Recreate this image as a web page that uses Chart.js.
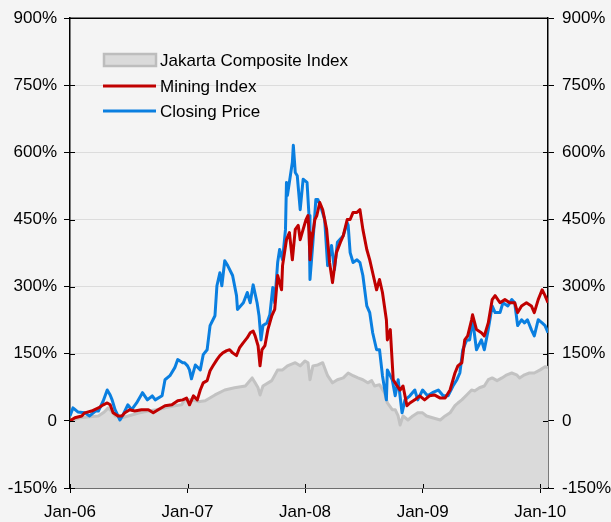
<!DOCTYPE html>
<html>
<head>
<meta charset="utf-8">
<script src="https://cdn.jsdelivr.net/npm/chart.js@4"></script>
<style>
  html, body { margin: 0; padding: 0; background: #f4f4f4; }
  canvas { display: block; }
</style>
</head>
<body>
<canvas id="grafico" width="611" height="522"></canvas>
<script>
// dados (x = meses desde Jan-06, y = variação em %)
var seriesNames = ['Jakarta Composite Index', 'Mining Index', 'Closing Price'];
var tickMonths = [0, 12, 24, 36, 48];
var tickLabels = ['Jan-06', 'Jan-07', 'Jan-08', 'Jan-09', 'Jan-10'];

var jciMonths = [0, 1.0, 2.0, 2.9, 3.5, 3.9, 4.3, 4.6, 5.3, 6.3, 7.1, 8.0, 8.8, 9.7, 10.7, 11.4, 11.7, 12.4, 13.1, 13.8,
  14.8, 15.8, 16.8, 17.9, 18.6, 18.9, 19.2, 19.4, 19.7, 20.6, 21.2, 21.7, 22.2, 23.0, 23.5, 24.0, 24.3, 24.5, 24.8, 25.3,
  25.8, 26.3, 26.8, 27.3, 27.9, 28.4, 28.9, 29.4, 29.9, 30.4, 30.8, 31.1, 31.6, 32.1, 32.4, 32.9, 33.2, 33.5, 33.7, 34.0,
  34.5, 35.0, 35.5, 36.0, 36.4, 37.0, 37.8, 38.3, 38.8, 39.3, 39.6, 40.0, 40.5, 41.0, 41.3, 41.8, 42.3, 42.7, 43.1, 43.6,
  44.1, 44.6, 45.1, 45.6, 45.9, 46.4, 46.9, 47.4, 48.0, 48.5, 48.8];
var jciValues = [0, 7, 9, 11, 20, 29, 20, 11, 7, 13, 18, 22, 25, 29, 34, 36, 47, 47, 43, 45,
  58, 69, 74, 78, 96, 85, 74, 58, 78, 90, 114, 114, 123, 130, 123, 134, 130, 92, 123, 125,
  130, 101, 85, 92, 96, 107, 101, 96, 92, 85, 90, 78, 81, 63, 40, 25, 25, 11, -9, 11,
  2, 11, 18, 18, 11, 7, 2, 11, 18, 34, 40, 47, 58, 69, 67, 74, 78, 92, 96, 90,
  96, 103, 107, 103, 96, 103, 107, 107, 114, 121, 119];

var miningMonths = [0, 0.5, 1.2, 1.5, 2.2, 2.9, 3.4, 3.8, 4.1, 4.4, 4.9, 5.3, 5.6, 6.1, 6.6, 7.3, 8.0, 8.5, 9.0, 9.7,
  10.4, 11.0, 11.5, 11.9, 12.2, 12.6, 13.0, 13.3, 13.6, 14.0, 14.3, 14.6, 15.0, 15.3, 15.6, 16.0, 16.3, 16.6, 17.0, 17.3,
  17.7, 18.1, 18.4, 18.7, 18.9, 19.2, 19.4, 19.6, 19.9, 20.2, 20.6, 20.9, 21.2, 21.6, 21.7, 22.1, 22.4, 22.7, 23.0, 23.3,
  23.5, 23.8, 24.1, 24.3, 24.4, 24.5, 24.7, 25.0, 25.2, 25.5, 25.8, 26.2, 26.5, 26.8, 27.2, 27.6, 27.9, 28.3, 28.6, 28.9,
  29.3, 29.6, 29.9, 30.3, 30.6, 30.9, 31.3, 31.6, 31.9, 32.3, 32.4, 32.7, 33.0, 33.4, 33.7, 34.0, 34.4, 34.7, 35.2, 35.7,
  36.2, 36.7, 37.2, 37.8, 38.3, 38.8, 39.3, 39.6, 40.0, 40.3, 40.6, 41.0, 41.1, 41.5, 42.0, 42.3, 42.7, 43.1, 43.4, 43.9,
  44.4, 44.9, 45.4, 45.7, 46.1, 46.6, 47.1, 47.4, 47.8, 48.2, 48.5, 48.8];
var miningValues = [0, 7, 11, 18, 22, 29, 36, 40, 36, 18, 11, 11, 18, 25, 22, 25, 25, 18, 25, 34,
  36, 45, 47, 51, 36, 56, 47, 69, 85, 90, 112, 123, 137, 146, 152, 157, 159, 152, 146, 163,
  175, 186, 197, 201, 190, 168, 123, 159, 168, 204, 235, 249, 325, 293, 347, 405, 421, 360, 428, 437,
  405, 428, 450, 459, 421, 360, 405, 450, 459, 488, 472, 428, 354, 309, 376, 399, 414, 450, 450, 466,
  466, 472, 428, 383, 360, 331, 293, 316, 287, 226, 181, 204, 92, 78, 69, 78, 34, 40, 47, 56,
  47, 56, 58, 51, 51, 69, 107, 123, 130, 181, 190, 226, 237, 204, 197, 190, 219, 271, 280, 264,
  271, 264, 264, 242, 257, 264, 257, 242, 271, 293, 280, 264];

var closingMonths = [0, 0.3, 0.8, 1.5, 2.0, 2.6, 2.9, 3.4, 3.8, 4.1, 4.3, 4.6, 5.1, 5.4, 5.9, 6.3, 6.8, 7.4, 7.9, 8.4,
  8.7, 9.4, 9.7, 10.2, 10.7, 11.0, 11.5, 11.7, 12.0, 12.2, 12.4, 12.8, 13.3, 13.6, 14.0, 14.3, 14.8, 15.0, 15.3, 15.5,
  15.8, 16.1, 16.6, 17.0, 17.1, 17.7, 18.1, 18.4, 18.7, 19.1, 19.3, 19.5, 19.7, 20.1, 20.4, 20.7, 20.9, 21.2, 21.4, 21.7,
  22.0, 22.1, 22.2, 22.7, 22.8, 23.0, 23.2, 23.5, 23.8, 24.2, 24.4, 24.5, 24.8, 25.1, 25.3, 25.7, 26.0, 26.3, 26.7, 27.0,
  27.3, 27.9, 28.3, 28.4, 28.6, 28.9, 29.3, 29.6, 29.9, 30.3, 30.6, 30.9, 31.3, 31.6, 31.9, 32.3, 32.4, 32.9, 33.2, 33.5,
  33.9, 34.2, 34.7, 35.2, 35.5, 36.0, 36.5, 37.0, 37.6, 38.1, 38.6, 39.1, 39.5, 39.8, 40.1, 40.5, 40.8, 41.1, 41.5, 42.0,
  42.3, 42.7, 43.1, 43.4, 43.9, 44.2, 44.7, 45.1, 45.4, 45.7, 46.1, 46.4, 46.7, 47.1, 47.4, 47.8, 48.2, 48.5, 48.8];
var closingValues = [11, 29, 20, 18, 11, 22, 22, 45, 69, 58, 47, 25, 2, 13, 36, 25, 40, 63, 47, 56,
  47, 56, 92, 101, 119, 137, 130, 130, 123, 114, 94, 125, 114, 148, 159, 213, 235, 302, 331, 302,
  358, 347, 325, 280, 249, 264, 287, 264, 304, 264, 235, 181, 213, 219, 237, 298, 264, 354, 383, 360,
  428, 533, 504, 578, 616, 555, 548, 472, 540, 533, 459, 316, 399, 495, 495, 472, 450, 347, 392, 338,
  399, 414, 443, 437, 376, 354, 360, 354, 325, 257, 242, 197, 159, 159, 101, 47, 114, 92, 56, 92,
  18, 47, 56, 69, 47, 69, 56, 63, 69, 56, 56, 78, 92, 107, 159, 181, 181, 226, 159, 181,
  159, 204, 257, 242, 242, 264, 257, 271, 264, 213, 226, 219, 226, 204, 190, 226, 219, 213, 197];

function pontos(meses, valores) {
    return meses.map(function (m, i) { return { x: m, y: valores[i] }; });
}

// Plugin p/ moldura, ticks internos e legenda dentro do gráfico
var molduraLegenda = {
    id: 'molduraLegenda',
    afterDraw: function (chart) {
        var ctx = chart.ctx;
        var area = chart.chartArea;
        ctx.save();
        ctx.strokeStyle = '#000';
        ctx.lineWidth = 1.5;
        ctx.beginPath();
        ctx.moveTo(area.left, area.top);
        ctx.lineTo(area.right, area.top);
        ctx.stroke();

        ctx.lineWidth = 1;
        ctx.beginPath();
        chart.scales.y.ticks.forEach(function (t) {
            var py = Math.round(chart.scales.y.getPixelForValue(t.value)) + 0.5;
            ctx.moveTo(area.left, py); ctx.lineTo(area.left + 5, py);
            ctx.moveTo(area.right, py); ctx.lineTo(area.right - 5, py);
        });
        tickMonths.forEach(function (m) {
            var px = Math.round(chart.scales.x.getPixelForValue(m)) + 0.5;
            ctx.moveTo(px, area.bottom); ctx.lineTo(px, area.bottom - 4);
        });
        ctx.stroke();

        // legenda
        var linhas = [60, 86, 111];
        ctx.font = '17px "Liberation Sans", Arial, sans-serif';
        ctx.textBaseline = 'middle';
        ctx.fillStyle = '#000';
        chart.data.datasets.forEach(function (ds, i) {
            var ly = linhas[i];
            if (i === 0) {
                ctx.fillStyle = '#dadada';
                ctx.fillRect(104, ly - 6, 52, 12);
                ctx.strokeStyle = '#bdbdbd';
                ctx.lineWidth = 2.5;
                ctx.strokeRect(104, ly - 6, 52, 12);
            } else {
                ctx.strokeStyle = ds.borderColor;
                ctx.lineWidth = 3;
                ctx.beginPath();
                ctx.moveTo(103, ly);
                ctx.lineTo(156, ly);
                ctx.stroke();
            }
            ctx.fillStyle = '#000';
            ctx.fillText(ds.label, 160, ly + 1);
        });
        ctx.restore();
    }
};

var fonte = { family: '"Liberation Sans", Arial, sans-serif', size: 17 };

var ctx = document.getElementById('grafico').getContext('2d');
var myChart = new Chart(ctx, {
    type: 'line',
    data: {
        datasets: [{
            label: seriesNames[0],
            data: pontos(jciMonths, jciValues),
            borderColor: '#c2c2c2',
            backgroundColor: '#dadada',
            borderWidth: 3,
            fill: 'start',
            order: 3
        }, {
            label: seriesNames[1],
            data: pontos(miningMonths, miningValues),
            borderColor: '#c00000',
            borderWidth: 3,
            fill: false,
            order: 1
        }, {
            label: seriesNames[2],
            data: pontos(closingMonths, closingValues),
            borderColor: '#0a7fe0',
            borderWidth: 3,
            fill: false,
            order: 2
        }]
    },
    options: {
        responsive: false,
        animation: false,
        layout: { padding: { top: 17, left: 0, right: 0, bottom: 0 } },
        elements: {
            point: { radius: 0 },
            line: { tension: 0, borderJoinStyle: 'round' }
        },
        plugins: {
            legend: { display: false },
            tooltip: { enabled: false },
            filler: { drawTime: 'beforeDatasetsDraw' }
        },
        scales: {
            x: {
                type: 'linear',
                min: 0,
                max: 48.8,
                afterBuildTicks: function (scale) {
                    scale.ticks = tickMonths.map(function (m) { return { value: m }; });
                },
                afterFit: function (scale) { scale.height = 34; },
                ticks: {
                    autoSkip: false,
                    maxRotation: 0,
                    padding: 9,
                    color: '#000',
                    font: fonte,
                    callback: function (v) {
                        var i = tickMonths.indexOf(v);
                        return i >= 0 ? tickLabels[i] : '';
                    }
                },
                grid: { drawOnChartArea: false, drawTicks: true, tickLength: 5, tickColor: '#000' },
                border: { display: true, color: '#000', width: 1.5 }
            },
            y: {
                position: 'left',
                min: -150,
                max: 900,
                afterFit: function (scale) { scale.width = 70; },
                ticks: {
                    stepSize: 150,
                    padding: 7,
                    color: '#000',
                    font: fonte,
                    callback: function (v) { return v === 0 ? '0' : v + '%'; }
                },
                grid: { color: '#dcdcdc', lineWidth: 1, drawTicks: true, tickLength: 6, tickColor: '#000' },
                border: { display: true, color: '#000', width: 1.5 }
            },
            y2: {
                position: 'right',
                min: -150,
                max: 900,
                afterFit: function (scale) { scale.width = 63; },
                ticks: {
                    stepSize: 150,
                    padding: 8,
                    color: '#000',
                    font: fonte,
                    callback: function (v) { return v === 0 ? '0' : v + '%'; }
                },
                grid: { drawOnChartArea: false, drawTicks: true, tickLength: 6, tickColor: '#000' },
                border: { display: true, color: '#000', width: 1.5 }
            }
        }
    },
    plugins: [molduraLegenda]
});
</script>
</body>
</html>
